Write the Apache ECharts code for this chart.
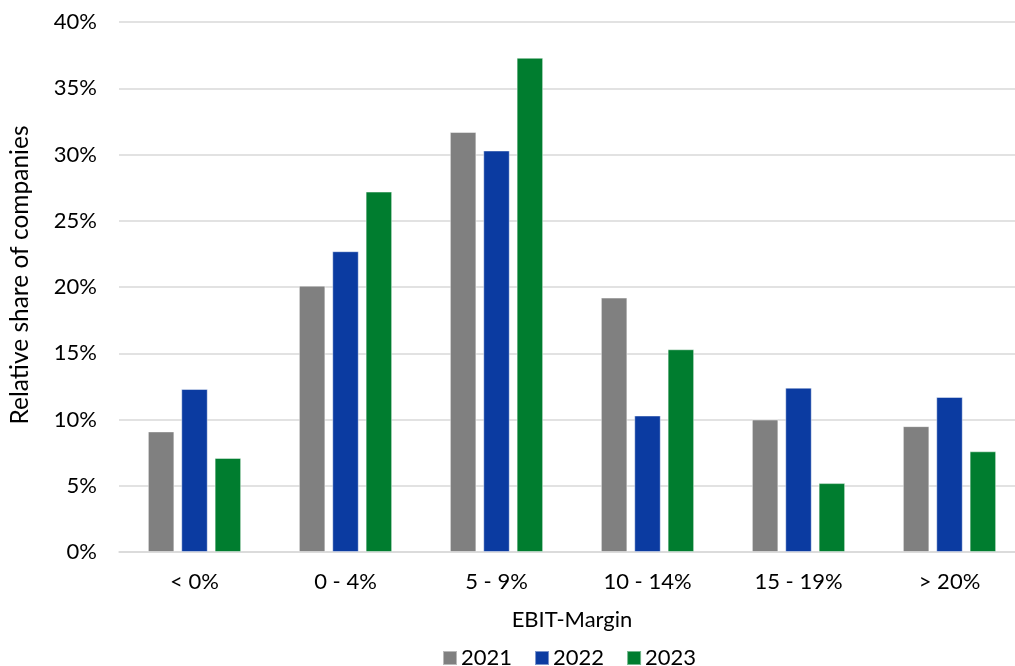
<!DOCTYPE html>
<html>
<head>
<meta charset="utf-8">
<script src="https://cdn.jsdelivr.net/npm/echarts@6/dist/echarts.min.js"></script>
<style>
html,body{margin:0;padding:0;background:#fff;overflow:hidden;width:1015px;height:666px;}
#chart{width:1025px;height:666px;}
</style>
</head>
<body>
<div id="chart"></div>
<script>
const categories = ['< 0%', '0 - 4%', '5 - 9%', '10 - 14%', '15 - 19%', '> 20%'];
const years = ['2021', '2022', '2023'];
const values2021 = [9.1, 20.1, 31.7, 19.2, 10.0, 9.5];
const values2022 = [12.3, 22.7, 30.3, 10.3, 12.4, 11.7];
const values2023 = [7.1, 27.2, 37.3, 15.3, 5.2, 7.6];
const yTicks = [0, 5, 10, 15, 20, 25, 30, 35, 40];

const colors = ['#808080', '#0b3ba1', '#007d2f'];
const font = 'Lato, "Open Sans", sans-serif';
const seriesData = [values2021, values2022, values2023];

const chart = echarts.init(document.getElementById('chart'));
chart.setOption({
  animation: false,
  textStyle: {fontFamily: font},
  grid: {left: 119, right: 0, top: 22, bottom: 114, containLabel: false},
  legend: {
    data: years,
    top: 642,
    left: 437,
    itemWidth: 14,
    itemHeight: 14,
    itemGap: 22,
    icon: 'rect',
    textStyle: {fontFamily: font, fontSize: 22, color: '#000', padding: [0, 0, 0, -1]}
  },
  xAxis: {
    type: 'category',
    data: categories,
    name: 'EBIT-Margin',
    nameLocation: 'middle',
    nameGap: 57,
    nameTextStyle: {fontFamily: font, fontSize: 22, color: '#000'},
    axisLine: {lineStyle: {color: '#d9d9d9', width: 1.5}},
    axisTick: {show: false},
    axisLabel: {fontFamily: font, fontSize: 22, color: '#000', margin: 19}
  },
  yAxis: {
    type: 'value',
    min: 0,
    max: 40,
    interval: 5,
    name: 'Relative share of companies',
    nameLocation: 'middle',
    nameGap: 86,
    nameTextStyle: {fontFamily: font, fontSize: 24.5, color: '#000', padding: [0, 0, 0, 24]},
    axisLine: {show: false},
    axisTick: {show: false},
    axisLabel: {fontFamily: font, fontSize: 22, color: '#000', margin: 22,
      formatter: v => yTicks.includes(v) ? v + '%' : ''},
    splitLine: {lineStyle: {color: '#d9d9d9', width: 1.5}}
  },
  series: years.map((y, i) => ({
    name: y,
    type: 'bar',
    data: seriesData[i],
    barWidth: 26.5,
    barGap: '26%',
    itemStyle: {color: colors[i], borderColor: 'rgba(255,255,255,0.45)', borderWidth: 1}
  }))
});
</script>
</body>
</html>
